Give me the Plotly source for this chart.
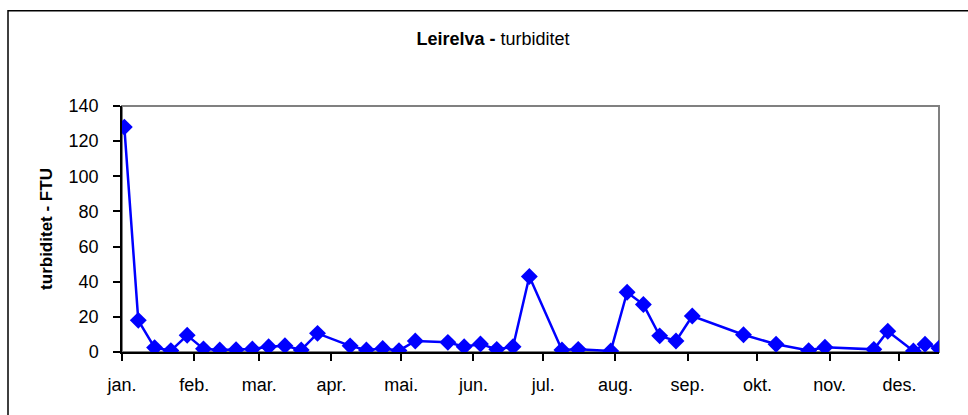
import plotly.graph_objects as go

dates = [
    "2003-01-02", "2003-01-08", "2003-01-15", "2003-01-22", "2003-01-29",
    "2003-02-05", "2003-02-12", "2003-02-19", "2003-02-26", "2003-03-05",
    "2003-03-12", "2003-03-19", "2003-03-26", "2003-04-09", "2003-04-16",
    "2003-04-23", "2003-04-30", "2003-05-07", "2003-05-21", "2003-05-28",
    "2003-06-04", "2003-06-11", "2003-06-18", "2003-06-25", "2003-07-09",
    "2003-07-16", "2003-07-30", "2003-08-06", "2003-08-13", "2003-08-20",
    "2003-08-27", "2003-09-03", "2003-09-25", "2003-10-09", "2003-10-23",
    "2003-10-30", "2003-11-20", "2003-11-26", "2003-12-07", "2003-12-12",
    "2003-12-18",
]
turbiditet = [
    128, 18, 2.5, 0.8, 9.5,
    1.8, 1.2, 1.3, 1.7, 3.0,
    3.6, 1.2, 10.6, 3.5, 1.2,
    2.0, 0.8, 6.3, 5.5, 3.0,
    4.6, 1.5, 3.0, 43, 1.2,
    1.5, 0.6, 34, 27, 9.2,
    6.3, 20.5, 9.8, 4.4, 0.8,
    2.7, 1.5, 11.8, 0.6, 4.4,
    2.1,
]
month_ticks = [
    "2003-01-01", "2003-02-01", "2003-03-01", "2003-04-01", "2003-05-01",
    "2003-06-01", "2003-07-01", "2003-08-01", "2003-09-01", "2003-10-01",
    "2003-11-01", "2003-12-01",
]
month_labels = ["jan.", "feb.", "mar.", "apr.", "mai.", "jun.", "jul.",
                "aug.", "sep.", "okt.", "nov.", "des."]
y_ticks = [0, 20, 40, 60, 80, 100, 120, 140]

FONT = "Liberation Sans, Arial, sans-serif"

fig = go.Figure()
fig.add_trace(go.Scatter(
    x=dates, y=turbiditet, mode="lines+markers",
    line=dict(color="#0000FF", width=2.5),
    marker=dict(symbol="diamond", size=13, color="#0000FF"),
    showlegend=False, hoverinfo="x+y",
))

L, R, T, B = 122, 29, 106, 63
W, H = 968, 415
pw, ph = W - L - R, H - T - B

def px_x(p):
    return (p - L) / pw

def px_y(p):
    return (H - B - p) / ph

fig.update_layout(
    width=W, height=H,
    margin=dict(l=L, r=R, t=T, b=B, pad=0),
    paper_bgcolor="white", plot_bgcolor="white",
    font=dict(family=FONT, size=18, color="black"),
    title=dict(
        text="<b>Leirelva - </b>turbiditet",
        x=493 / W, xanchor="center", xref="container",
        y=1 - 39 / H, yanchor="middle", yref="container",
        font=dict(family=FONT, size=18, color="black"),
    ),
    xaxis=dict(
        type="date",
        range=["2003-01-01", "2003-12-18"],
        tickvals=month_ticks, ticktext=month_labels,
        showgrid=False, zeroline=False,
        showline=True, linecolor="black", linewidth=1.5,
        ticks="outside", ticklen=7, tickcolor="black", tickwidth=1.5,
        tickfont=dict(family=FONT, size=18, color="black"),
        ticklabelstandoff=9,
    ),
    yaxis=dict(
        range=[0, 140],
        tickvals=y_ticks,
        showgrid=False, zeroline=False,
        showline=True, linecolor="black", linewidth=1.5,
        ticks="outside", ticklen=7, tickcolor="black", tickwidth=1.5,
        tickfont=dict(family=FONT, size=18, color="black"),
        ticklabelstandoff=11,
        title=dict(text="<b>turbiditet - FTU</b>", standoff=12,
                   font=dict(family=FONT, size=17, color="black")),
    ),
    shapes=[
        dict(type="rect", xref="paper", yref="paper", x0=0, x1=1, y0=0, y1=1,
             line=dict(color="#808080", width=2), layer="below"),
        dict(type="rect", xref="paper", yref="paper",
             x0=px_x(8), x1=px_x(990), y0=px_y(430), y1=px_y(10.7),
             line=dict(color="black", width=1.5), layer="below"),
    ],
)

fig.write_html(
    "out.html",
    config={"displayModeBar": False},
    post_script="document.body.style.margin='0';document.body.style.overflow='hidden';",
)
